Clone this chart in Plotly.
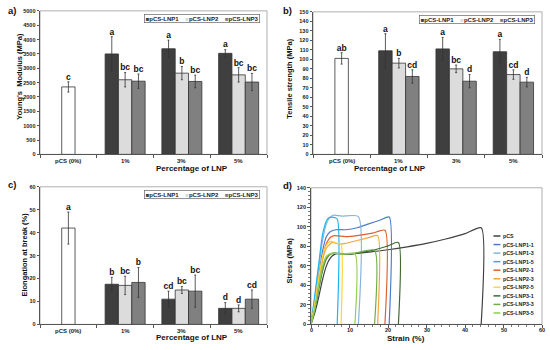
import plotly.graph_objects as go

FONT = "Liberation Sans"

categories = ["pCS (0%)", "1%", "3%", "5%"]
series_names = ["pCS-LNP1", "pCS-LNP2", "pCS-LNP3"]

# pCS reference value (single bar), then LNP series at 1%,3%,5%
ym_pcs, ym_pcs_err, ym_pcs_lab = 2350, 180, "c"
ym_vals = [[3500, 3680, 3520], [2600, 2830, 2770], [2550, 2540, 2520]]
ym_errs = [[600, 300, 130], [250, 230, 250], [250, 220, 300]]
ym_labs = [["a", "a", "a"], ["bc", "b", "bc"], ["bc", "bc", "bc"]]

ts_pcs, ts_pcs_err, ts_pcs_lab = 101, 6, "ab"
ts_vals = [[109, 111, 108], [96, 90, 84], [82, 77, 76]]
ts_errs = [[18, 12, 13], [5, 4, 5], [7, 7, 5]]
ts_labs = [["a", "a", "a"], ["b", "bc", "cd"], ["cd", "d", "d"]]

el_pcs, el_pcs_err, el_pcs_lab = 42, 7, "a"
el_vals = [[17.5, 11, 7], [17, 15, 7], [18.3, 14.5, 11]]
el_errs = [[3, 3.5, 2.5], [4, 1.5, 1.5], [6.5, 7, 4]]
el_labs = [["b", "cd", "d"], ["bc", "bc", "d"], ["b", "bc", "cd"]]

bar_colors = ["#3f3f3f", "#dcdcdc", "#808080"]
pcs_color = "#ffffff"

# stress-strain curves
curve_names = ["pCS", "pCS-LNP1-1", "pCS-LNP1-3", "pCS-LNP1-5", "pCS-LNP2-1",
               "pCS-LNP2-3", "pCS-LNP2-5", "pCS-LNP3-1", "pCS-LNP3-3", "pCS-LNP3-5"]
curve_colors = ["#404040", "#4a7cc9", "#86b4e0", "#1eb4f0", "#df5f2e",
                "#f5a540", "#ffd43b", "#3e6b2e", "#70ad47", "#92d050"]
strain = [
    [0, 1, 2, 3, 4, 5, 6, 7, 8, 10, 15, 20, 25, 30, 35, 40, 44.2, 44.2],
    [0, 1, 2, 3, 4, 5, 6.5, 9, 12, 15, 18, 20.3, 20.3],
    [0, 1, 2, 3, 4, 5, 6, 8, 12.3, 12.3],
    [0, 1, 2, 3, 4, 4.5, 5.5, 6.8, 6.8],
    [0, 1, 2, 3, 4, 5, 6, 9, 12, 16, 19.2, 19.2],
    [0, 1, 2, 3, 4, 5.5, 7, 9, 12, 15, 17.3, 17.3],
    [0, 1, 2, 3, 4, 5, 7, 7.8, 7.8],
    [0, 1, 2, 3, 4, 5, 6, 10, 12, 15, 18, 20, 22.7, 22.7],
    [0, 1, 2, 3, 4, 5, 6, 9, 12, 16.5, 16.5],
    [0, 1, 2, 3, 4, 5.5, 8, 11.4, 11.4],
]
stress = [
    [0, 12, 28, 46, 60, 68, 71.5, 72.5, 72, 72, 74, 76.5, 79.5, 83, 87.5, 93, 99, 0],
    [0, 22, 50, 75, 90, 95, 97, 97, 99, 103, 107, 110, 0],
    [0, 28, 58, 86, 103, 110, 112, 111, 110.5, 0],
    [0, 30, 62, 92, 106, 109, 110, 108, 0],
    [0, 20, 45, 68, 83, 89, 91, 90, 91, 93.5, 96.5, 0],
    [0, 20, 45, 66, 78, 84, 82.5, 83, 86, 89, 91, 0],
    [0, 22, 48, 70, 81, 85, 83, 82.5, 0],
    [0, 15, 36, 55, 67, 72, 73, 72, 73, 75, 78, 80.5, 84, 0],
    [0, 16, 38, 57, 68, 72, 73, 72, 73.5, 76, 0],
    [0, 17, 40, 60, 70, 73, 72, 72.5, 0],
]
strain_ticks = [0, 10, 20, 30, 40, 50, 60]

BAR_W = 0.235
W, H = 550, 350

fig = go.Figure()

# plot areas in pixels: (left, right, top, bottom)
areas = {1: (40, 267, 8, 154), 2: (313, 542, 9, 154), 3: (40, 267, 187, 327), 4: (311, 542, 188, 327)}
domains = {k: ([l / W, r / W], [1 - b / H, 1 - t / H]) for k, (l, r, t, b) in areas.items()}

def ax(k):
    return ("x" if k == 1 else f"x{k}"), ("y" if k == 1 else f"y{k}")

def bold(size, color="#222222"):
    return dict(family=FONT, size=size, color=color, weight="bold")

def bar_panel(k, pcs, pcs_err, pcs_lab, vals, errs, labs):
    xa, ya = ax(k)
    fig.add_trace(go.Bar(x=[0], y=[pcs], width=BAR_W, xaxis=xa, yaxis=ya,
                         marker=dict(color=pcs_color, line=dict(color="#333333", width=0.8)),
                         error_y=dict(type="data", array=[pcs_err], color="#333333", thickness=0.8, width=1),
                         showlegend=False, hoverinfo="skip"))
    tx, ty, tt = [0], [pcs + pcs_err], [pcs_lab]
    for s in range(3):
        xs = [i + 1 + (s - 1) * BAR_W for i in range(3)]
        fig.add_trace(go.Bar(x=xs, y=vals[s], width=BAR_W, xaxis=xa, yaxis=ya,
                             marker=dict(color=bar_colors[s], line=dict(color="#333333", width=0.8)),
                             error_y=dict(type="data", array=errs[s], color="#333333", thickness=0.8, width=1),
                             showlegend=False, hoverinfo="skip"))
        for i in range(3):
            tx.append(xs[i]); ty.append(vals[s][i] + errs[s][i]); tt.append(labs[s][i])
    fig.add_trace(go.Scatter(x=tx, y=ty, text=tt, mode="text", textposition="top center",
                             textfont=bold(8.5, "#111111"),
                             xaxis=xa, yaxis=ya, showlegend=False, hoverinfo="skip"))
    # legend box
    leg = "".join(f'<span style="color:{bar_colors[s]}">■</span>{series_names[s]}    '
                  for s in range(3)).rstrip()
    fig.add_annotation(xref=f"{xa} domain", yref=f"{ya} domain", x=0.97, y=0.975,
                       xanchor="right", yanchor="top", text=leg, showarrow=False,
                       font=bold(6), bordercolor="#666666", borderwidth=0.7, borderpad=1,
                       bgcolor="white")
    # category labels
    l, r, t, b = areas[k]
    for i, c in enumerate(categories):
        fig.add_annotation(xref=xa, yref="paper", x=i, y=1 - (b + 7) / H, text=c,
                           showarrow=False, yanchor="middle", font=bold(6))

bar_panel(1, ym_pcs, ym_pcs_err, ym_pcs_lab, ym_vals, ym_errs, ym_labs)
bar_panel(2, ts_pcs, ts_pcs_err, ts_pcs_lab, ts_vals, ts_errs, ts_labs)
bar_panel(3, el_pcs, el_pcs_err, el_pcs_lab, el_vals, el_errs, el_labs)

for i in range(len(curve_names)):
    fig.add_trace(go.Scatter(x=strain[i], y=stress[i], mode="lines", xaxis="x4", yaxis="y4",
                             line=dict(color=curve_colors[i], width=1.2, shape="spline", smoothing=0.6),
                             showlegend=False, hoverinfo="skip"))

# strain tick labels
for v in strain_ticks:
    fig.add_annotation(xref="x4", yref="paper", x=v, y=1 - (327 + 6) / H, text=str(v),
                       showarrow=False, yanchor="middle", font=bold(5.5))

# custom legend for panel d
for i, name in enumerate(curve_names):
    yy = 0.647 - i * 0.0626
    fig.add_shape(type="line", xref="x4 domain", yref="y4 domain", x0=0.79, x1=0.82,
                  y0=yy, y1=yy, line=dict(color=curve_colors[i], width=1.5))
    fig.add_annotation(xref="x4 domain", yref="y4 domain", x=0.822, y=yy, xanchor="left",
                       yanchor="middle", text=name, showarrow=False, font=bold(5.3))

tickfont = bold(5.5)

y_ranges = {1: (0, 5000, 500), 2: (0, 150, 10), 3: (0, 60, 10)}
layout = {}
for k in (1, 2, 3):
    xd, yd = domains[k]
    xa, ya = ax(k)
    xk = "xaxis" if k == 1 else f"xaxis{k}"
    yk = "yaxis" if k == 1 else f"yaxis{k}"
    layout[xk] = dict(domain=xd, anchor=ya, range=[-0.5, 3.5], tickmode="array",
                      tickvals=[0, 1, 2, 3], showticklabels=False, ticks="",
                      minor=dict(tick0=0.5, dtick=1, ticks="outside", ticklen=3, tickcolor="#555"),
                      showline=True, linecolor="#555555", linewidth=0.8, showgrid=False,
                      zeroline=False)
    r0, r1, dt = y_ranges[k]
    layout[yk] = dict(domain=yd, anchor=xa, range=[r0, r1], dtick=dt, ticks="outside",
                      ticklen=2.5, tickcolor="#555", showline=True, linecolor="#555555",
                      linewidth=0.8, showgrid=False, zeroline=False, tickfont=tickfont)

xd, yd = domains[4]
layout["xaxis4"] = dict(domain=xd, anchor="y4", range=[0, 60], dtick=10, ticks="outside",
                        ticklen=3, tickcolor="#555", showticklabels=False,
                        minor=dict(dtick=2, ticks="outside", ticklen=2, tickcolor="#777"),
                        showline=True, linecolor="#555555", linewidth=0.8, showgrid=False,
                        zeroline=False)
layout["yaxis4"] = dict(domain=yd, anchor="x4", range=[0, 140], dtick=20, ticks="outside",
                        ticklen=3, tickcolor="#555",
                        minor=dict(dtick=4, ticks="outside", ticklen=2, tickcolor="#777"),
                        showline=True, linecolor="#555555", linewidth=0.8, showgrid=False,
                        zeroline=False, tickfont=tickfont)

# plot-area frames
for k in (1, 2, 3, 4):
    xa, ya = ax(k)
    fig.add_shape(type="rect", xref=f"{xa} domain", yref=f"{ya} domain", x0=0, x1=1, y0=0, y1=1,
                  line=dict(color="#9a9a9a", width=0.8), layer="below")

# axis titles
x_titles = {1: ("Percentage of LNP", 168), 2: ("Percentage of LNP", 168),
            3: ("Percentage of LNP", 340), 4: ("Strain (%)", 341)}
for k, (txt, py) in x_titles.items():
    l, r, t, b = areas[k]
    fig.add_annotation(xref="paper", yref="paper", x=(l + r) / 2 / W, y=1 - py / H, text=txt,
                       showarrow=False, yanchor="middle", font=bold(8, "#111"))
y_titles = {1: ("Young's  Modulus (MPa)", 20, 75), 2: ("Tensile strength (MPa)", 290, 77),
            3: ("Elongation at break (%)", 25, 256), 4: ("Stress (MPa)", 290, 262)}
for k, (txt, px, py) in y_titles.items():
    fig.add_annotation(xref="paper", yref="paper", x=px / W, y=1 - py / H, text=txt,
                       textangle=-90, showarrow=False, xanchor="center", yanchor="middle",
                       font=bold(7.5, "#111"))

# panel labels
for lab, (px, py) in {"a)": (6, 8), "b)": (281, 8), "c)": (6, 185), "d)": (281, 186)}.items():
    fig.add_annotation(xref="paper", yref="paper", x=px / W, y=1 - py / H, xanchor="left",
                       yanchor="middle", text=lab, showarrow=False, font=bold(9.5, "#111"))

fig.update_layout(width=W, height=H, margin=dict(l=0, r=0, t=0, b=0),
                  paper_bgcolor="white", plot_bgcolor="white", barmode="overlay",
                  showlegend=False, hovermode=False, font=dict(family=FONT), **layout)

# remove the default 8px page margin so the figure sits at the window's top-left corner
fig.write_html("out.html", config={"displayModeBar": False},
               post_script="document.body.style.margin='0';")
